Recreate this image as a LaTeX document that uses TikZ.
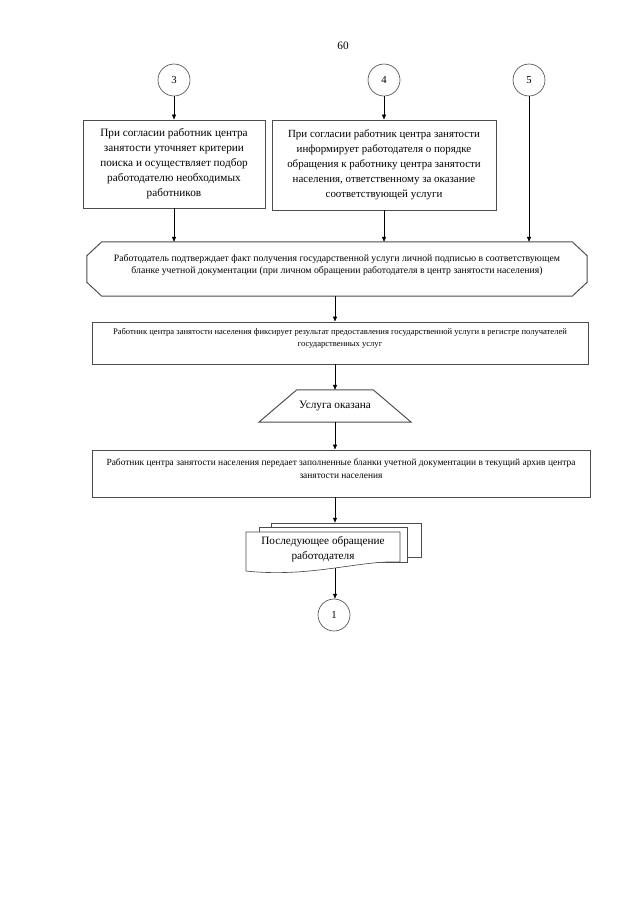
\documentclass[tikz,border=0pt]{standalone}
\usepackage{fontspec}
\setmainfont{Liberation Serif}
\usepackage{tikz}
\usetikzlibrary{arrows.meta}

\def\pu{0.3281mm}

\begin{document}
\begin{tikzpicture}[
  x=\pu, y=-\pu,
  font=\fontsize{10.5}{14}\selectfont,
  box/.style={rectangle, draw=black!70, line width=0.9pt, align=center,
              fill=white, inner sep=0pt},
  frame/.style={rectangle, draw=none, inner sep=0pt},
  outline/.style={draw=black!70, line width=0.9pt},
  link/.style={circle, draw=black!70, line width=0.6pt, minimum size=32*\pu,
               inner sep=0pt, font=\fontsize{10}{12}\selectfont},
  sheet/.style={rectangle, draw=black!70, line width=0.6pt, fill=white,
                inner sep=0pt},
  arr/.style={-{Triangle[length=1.6mm, width=1.3mm]}, line width=0.6pt},
]
\useasboundingbox (0,0) rectangle (640,905);

% page number
\node (pageno) at (343,46) {60};

% connectors from previous page
\node[link] (c3) at (174,80) {3};
\node[link] (c4) at (384,80) {4};
\node[link] (c5) at (529,80) {5};

% left branch
\node[box, minimum width=182*\pu, minimum height=88*\pu] (search) at (174,164)
  {При согласии работник центра\\занятости уточняет критерии\\поиска и осуществляет подбор\\работодателю необходимых\\работников};

% middle branch
\node[box, minimum width=224*\pu, minimum height=90*\pu,
      font=\fontsize{10.2}{14}\selectfont] (inform) at (384,165)
  {При согласии работник центра занятости\\информирует работодателя о порядке\\обращения к работнику центра занятости\\населения, ответственному за оказание\\соответствующей услуги};

% confirmation by the employer (octagon)
\node[frame, minimum width=500*\pu, minimum height=54*\pu] (confirm) at (337,269) {};
\draw[outline]
  ([xshift=15*\pu]confirm.north west) -- ([xshift=-15*\pu]confirm.north east)
  -- ([yshift=-14*\pu]confirm.north east) -- ([yshift=14*\pu]confirm.south east)
  -- ([xshift=-15*\pu]confirm.south east) -- ([xshift=15*\pu]confirm.south west)
  -- ([yshift=14*\pu]confirm.south west) -- ([yshift=-14*\pu]confirm.north west)
  -- cycle;
\node[font=\fontsize{9.1}{11.2}\selectfont, align=center] (confirmtext) at (337,265)
  {Работодатель подтверждает факт получения государственной услуги личной подписью в соответствующем\\бланке учетной документации (при личном обращении работодателя в центр занятости населения)};

% register entry
\node[box, minimum width=496*\pu, minimum height=42*\pu] (register) at (340,343) {};
\node[font=\fontsize{8}{11}\selectfont, align=center, anchor=north] (registertext)
  at (340,325)
  {Работник центра занятости населения фиксирует результат предоставления государственной услуги в регистре получателей\\государственных услуг};

% service done (trapezium)
\node[frame, minimum width=76*\pu, minimum height=32*\pu] (done) at (335,406)
  {Услуга оказана};
\draw[outline]
  (done.north west) -- (done.north east)
  -- ([xshift=38*\pu]done.south east) -- ([xshift=-38*\pu]done.south west)
  -- cycle;

% archive
\node[box, minimum width=498*\pu, minimum height=47*\pu] (archive) at (341,473.5) {};
\node[font=\fontsize{8.8}{12}\selectfont, align=center, anchor=north] (archivetext)
  at (341,455)
  {Работник центра занятости населения передает заполненные бланки учетной документации в текущий архив центра\\занятости населения};

% multi-document
\node[sheet, minimum width=150*\pu, minimum height=34*\pu] (sheetback) at (346,540) {};
\node[sheet, minimum width=148*\pu, minimum height=35*\pu] (sheetmid) at (333,544.5) {};
\draw[draw=black!70, line width=0.6pt, fill=white]
  (246,532) -- (400,532) -- (400,562)
  .. controls (360,560) and (310,578) .. (246,571) -- cycle;
\node[align=center] (nextvisit) at (323,549) {Последующее обращение\\работодателя};
\coordinate (sheetfoot) at (335,568);

% connector to next page
\node[link] (c1) at (334,615) {1};

% arrows
\draw[arr] (c3) -- (search);
\draw[arr] (c4) -- (inform);
\draw[arr] (search.south) -- (search.south |- confirm.north);
\draw[arr] (inform.south) -- (inform.south |- confirm.north);
\draw[arr] (c5.south) -- (c5.south |- confirm.north);
\draw[arr] (confirm.south -| done) -- (register.north -| done);
\draw[arr] (register.south -| done) -- (done.north);
\draw[arr] (done.south) -- (archive.north -| done);
\draw[arr] (archive.south -| done) -- (sheetback.north -| done);
\draw[arr] (sheetfoot) -- (c1.north -| sheetfoot);

\end{tikzpicture}
\end{document}
